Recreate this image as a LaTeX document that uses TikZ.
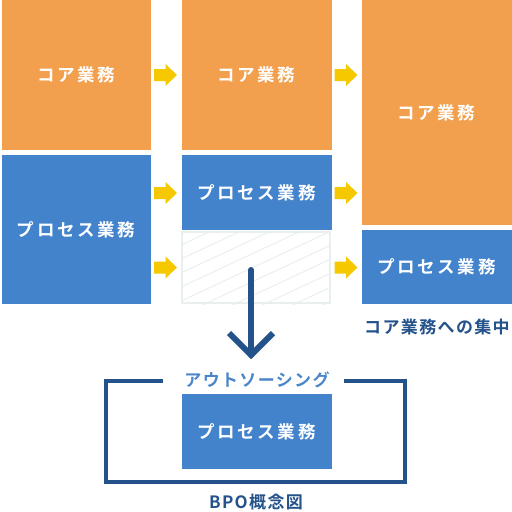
\documentclass[tikz,border=0pt]{standalone}
\usepackage{fontspec}
\newfontfamily\jpbox{Noto Sans CJK JP Bold}[LetterSpace=15]
\newfontfamily\jplab{Noto Sans CJK JP Bold}[LetterSpace=8]
\definecolor{orng}{HTML}{F2A04E}
\definecolor{bblue}{HTML}{4383CC}
\definecolor{dblue}{HTML}{24528A}
\definecolor{lblue}{HTML}{4A86C8}
\definecolor{yel}{HTML}{F5C800}
\definecolor{hatch}{HTML}{E9EFEC}
\begin{document}
\begin{tikzpicture}[x=1pt,y=-1pt,
  boxbase/.style={inner sep=0pt, text=white, font=\jpbox\fontsize{17.5}{17.5}\selectfont, minimum width=150pt},
  obox/.style={boxbase, fill=orng},
  bbox/.style={boxbase, fill=bblue},
  lab/.style={inner sep=0pt, font=\jplab\fontsize{17}{17}\selectfont},
  yarr/.pic={\fill[yel] (-11.5,-6) -- (0,-6) -- (0,-11) -- (11.5,0) -- (0,11) -- (0,6) -- (-11.5,6) -- cycle;}
]
\useasboundingbox (0,0) rectangle (512,512);
% column 1
\node[obox, minimum width=149pt, minimum height=150pt] (c1o) at (76,75) {コア業務};
\node[bbox, minimum width=149pt, minimum height=149pt] (c1b) at (76,229.5) {プロセス業務};
% column 2
\node[obox, minimum height=150pt] (c2o) at (256.5,75) {コア業務};
\node[bbox, minimum height=75pt] (c2b) at (256.5,192.5) {プロセス業務};
\begin{scope}
  \clip (181,231) rectangle (331,304);
  \foreach \i in {-2,...,12}{
    \draw[hatch, line width=1pt] (181,231+\i*14) -- (331,231+\i*14-70);
  }
\end{scope}
\draw[hatch, line width=1.5pt] (182,232) rectangle (330,303);
% column 3
\node[obox, minimum height=225pt] (c3o) at (436.5,112.5) {コア業務};
\node[bbox, minimum height=74pt] (c3b) at (436.5,267) {プロセス業務};
% yellow arrows
\pic at (165.5,75) {yarr};
\pic at (165.5,193) {yarr};
\pic at (165.5,267.5) {yarr};
\pic at (346,75) {yarr};
\pic at (346,193) {yarr};
\pic at (346,267.5) {yarr};
% label
\node[lab, text=dblue] (focus) at (437,327) {コア業務への集中};
% down arrow
\coordinate (dtop) at (251,270);
\coordinate (dtip) at (251,355);
\draw[dblue, line width=6pt, line cap=round] (dtop) -- (dtip);
\draw[dblue, line width=6pt, line join=miter] (229,333) -- (dtip) -- (273,333);
% bracket
\node[lab, text=lblue] (outs) at (257,380) {アウトソーシング};
\draw[dblue, line width=4pt] (163,380.5) -- (106,380.5) -- (106,482) -- (405,482) -- (405,380.5) -- (344,380.5);
\node[bbox, minimum height=75pt] (inner) at (256.5,431.5) {プロセス業務};
\node[lab, text=dblue] (bpo) at (256,502) {BPO概念図};
\end{tikzpicture}
\end{document}
